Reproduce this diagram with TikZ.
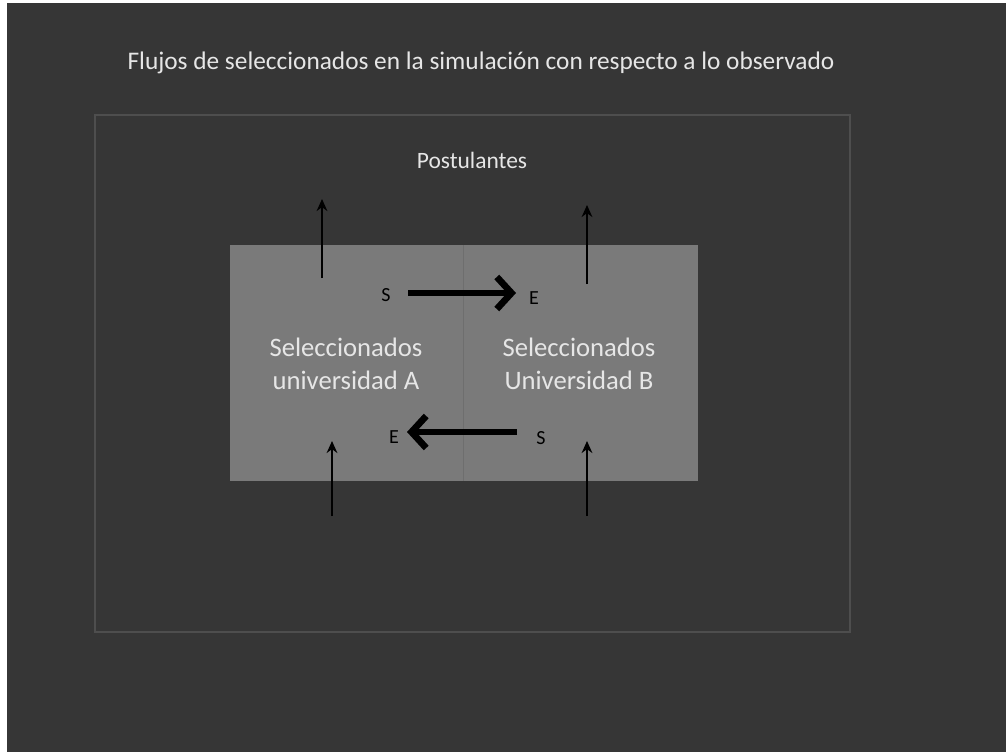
\documentclass[tikz,border=0pt]{standalone}
\usepackage{fontspec}
\setmainfont{Carlito}
\usetikzlibrary{arrows.meta}
\definecolor{bgdark}{HTML}{363636}
\definecolor{framecol}{HTML}{4E4E4E}
\definecolor{boxgray}{HTML}{7A7A7A}
\definecolor{divcol}{HTML}{6E6E6E}
\definecolor{txtlight}{HTML}{E6E6E6}
\tikzset{
  lbl/.style={text=txtlight, inner sep=0pt, align=center},
  se/.style={text=black, inner sep=1pt, font=\fontsize{15}{17}\selectfont},
  thinarrow/.style={draw=black, line width=1.6pt, -{Stealth[length=9pt,width=8pt]}},
  thickarrow/.style={draw=black, line width=4.5pt, -{Straight Barb[length=11pt,width=24pt,line width=5pt]}}
}
\begin{document}
\begin{tikzpicture}[x=0.75pt,y=-0.75pt]
\useasboundingbox (0,0) rectangle (1006,752);
\fill[white] (0,0) rectangle (1006,752);
\fill[bgdark] (7,3) rectangle (1006,752);
\draw[framecol, line width=1pt] (95,115) rectangle (850,632);
\node[lbl, font=\fontsize{19}{22}\selectfont] (title) at (481,63) {Flujos de seleccionados en la simulación con respecto a lo observado};
\node[lbl, font=\fontsize{17.6}{20}\selectfont] (post) at (472,160) {Postulantes};
\fill[boxgray] (230,245) rectangle (698,481);
\draw[divcol, line width=0.6pt] (463,245) -- (463,481);
\node[lbl, font=\fontsize{20}{25}\selectfont] (uA) at (346,364) {Seleccionados\\universidad A};
\node[lbl, font=\fontsize{20}{25}\selectfont] (uB) at (579,364) {Seleccionados\\Universidad B};
% labels
\node[se] (sA) at (386,295) {S};
\node[se] (eB) at (534,298) {E};
\node[se] (eA) at (394,437) {E};
\node[se] (sB) at (541,438) {S};
\coordinate (t1) at (408,293);
\coordinate (t2) at (516,293);
\coordinate (u1) at (517,432);
\coordinate (u2) at (407,432);
\draw[thickarrow] (t1) -- (t2);
\draw[thickarrow] (u1) -- (u2);
% vertical flows
\coordinate (a1) at (322,278);
\coordinate (a2) at (322,199);
\coordinate (b1) at (587,284);
\coordinate (b2) at (587,205);
\coordinate (c1) at (332,516);
\coordinate (c2) at (332,441);
\coordinate (d1) at (587,516);
\coordinate (d2) at (587,441);
\draw[thinarrow] (a1) -- (a2);
\draw[thinarrow] (b1) -- (b2);
\draw[thinarrow] (c1) -- (c2);
\draw[thinarrow] (d1) -- (d2);
\end{tikzpicture}
\end{document}
